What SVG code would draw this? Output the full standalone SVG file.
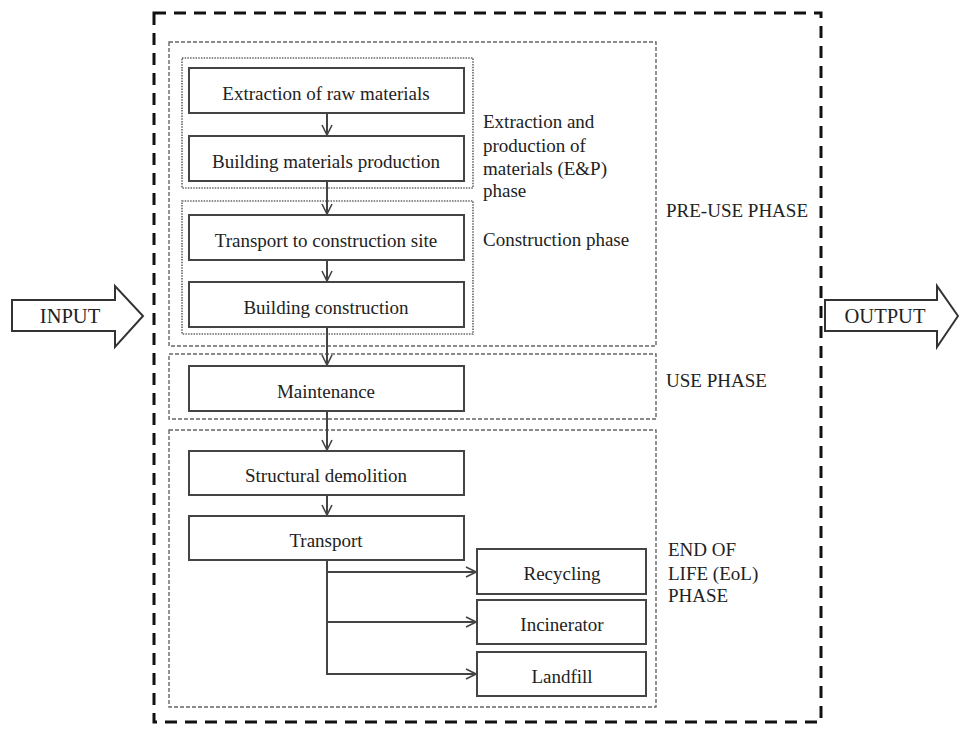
<svg xmlns="http://www.w3.org/2000/svg" width="959" height="729" viewBox="0 0 959 729">
<defs>
<marker id="ah" viewBox="0 0 12 12" refX="11" refY="6" markerWidth="12" markerHeight="12" markerUnits="userSpaceOnUse" orient="auto">
<path d="M1,1 L11,6 L1,11" fill="none" stroke="#444" stroke-width="1.6"/>
</marker>
</defs>
<style>
text{font-family:"Liberation Serif","Times New Roman",serif;font-size:19px;fill:#222}
.mid{text-anchor:middle}
.io{font-size:20.5px}
.box{fill:#fff;stroke:#444;stroke-width:2}
.outer{fill:none;stroke:#111;stroke-width:3;stroke-dasharray:12 8}
.phase{fill:none;stroke:#666;stroke-width:1.4;stroke-dasharray:4 2}
.sub{fill:none;stroke:#666;stroke-width:1.6;stroke-dasharray:1.5 1.2}
.ln{fill:none;stroke:#444;stroke-width:2}
.arr{fill:#fff;stroke:#333;stroke-width:2}
</style>
<rect class="outer" x="154" y="13" width="667" height="709"/>
<g id="phase-preuse"><rect class="phase" x="169" y="42" width="487" height="304"/><text x="666" y="217">PRE-USE PHASE</text></g>
<g id="phase-ep"><rect class="sub" x="182" y="58" width="291" height="130"/><text x="483" y="128">Extraction and</text><text x="483" y="152">production of</text><text x="483" y="175">materials (E&amp;P)</text><text x="483" y="197">phase</text></g>
<g id="phase-construction"><rect class="sub" x="182" y="201" width="291" height="133"/><text x="483" y="246">Construction phase</text></g>
<g id="phase-use"><rect class="phase" x="169" y="354" width="487" height="65"/><text x="666" y="387">USE PHASE</text></g>
<g id="phase-eol"><rect class="phase" x="169" y="430" width="487" height="277"/><text x="668" y="556">END OF</text><text x="668" y="580">LIFE (EoL)</text><text x="668" y="602">PHASE</text></g>
<g id="n-extraction"><rect class="box" x="189" y="68" width="275" height="45"/><text class="mid" x="326" y="100">Extraction of raw materials</text></g>
<g id="n-production"><rect class="box" x="189" y="136" width="275" height="45"/><text class="mid" x="326" y="168">Building materials production</text></g>
<g id="n-transport-site"><rect class="box" x="189" y="215" width="275" height="45"/><text class="mid" x="326" y="247">Transport to construction site</text></g>
<g id="n-construction"><rect class="box" x="189" y="282" width="275" height="45"/><text class="mid" x="326" y="314">Building construction</text></g>
<g id="n-maintenance"><rect class="box" x="189" y="366" width="275" height="45"/><text class="mid" x="326" y="398">Maintenance</text></g>
<g id="n-demolition"><rect class="box" x="189" y="451" width="275" height="44"/><text class="mid" x="326" y="482">Structural demolition</text></g>
<g id="n-transport"><rect class="box" x="189" y="516" width="275" height="44"/><text class="mid" x="326" y="547">Transport</text></g>
<g id="n-recycling"><rect class="box" x="477" y="549" width="169" height="45"/><text class="mid" x="562" y="580">Recycling</text></g>
<g id="n-incinerator"><rect class="box" x="477" y="600" width="169" height="44"/><text class="mid" x="562" y="631">Incinerator</text></g>
<g id="n-landfill"><rect class="box" x="477" y="652" width="169" height="44"/><text class="mid" x="562" y="683">Landfill</text></g>
<g id="input"><path class="arr" d="M12,300 H115 V286 L143,316 L115,347 V331 H12 Z"/><text class="mid io" x="70" y="323">INPUT</text></g>
<g id="output"><path class="arr" d="M825,300 H937 V286 L958,316 L937,347 V331 H825 Z"/><text class="mid io" x="885" y="323">OUTPUT</text></g>
<g id="connectors">
<line class="ln" x1="327" y1="113" x2="327" y2="135" marker-end="url(#ah)"/>
<line class="ln" x1="327" y1="181" x2="327" y2="214" marker-end="url(#ah)"/>
<line class="ln" x1="327" y1="260" x2="327" y2="281" marker-end="url(#ah)"/>
<line class="ln" x1="327" y1="327" x2="327" y2="365" marker-end="url(#ah)"/>
<line class="ln" x1="327" y1="411" x2="327" y2="450" marker-end="url(#ah)"/>
<line class="ln" x1="327" y1="495" x2="327" y2="515" marker-end="url(#ah)"/>
<polyline class="ln" points="327,560 327,674 476,674" marker-end="url(#ah)"/>
<line class="ln" x1="327" y1="572" x2="476" y2="572" marker-end="url(#ah)"/>
<line class="ln" x1="327" y1="622" x2="476" y2="622" marker-end="url(#ah)"/>
</g>
</svg>
